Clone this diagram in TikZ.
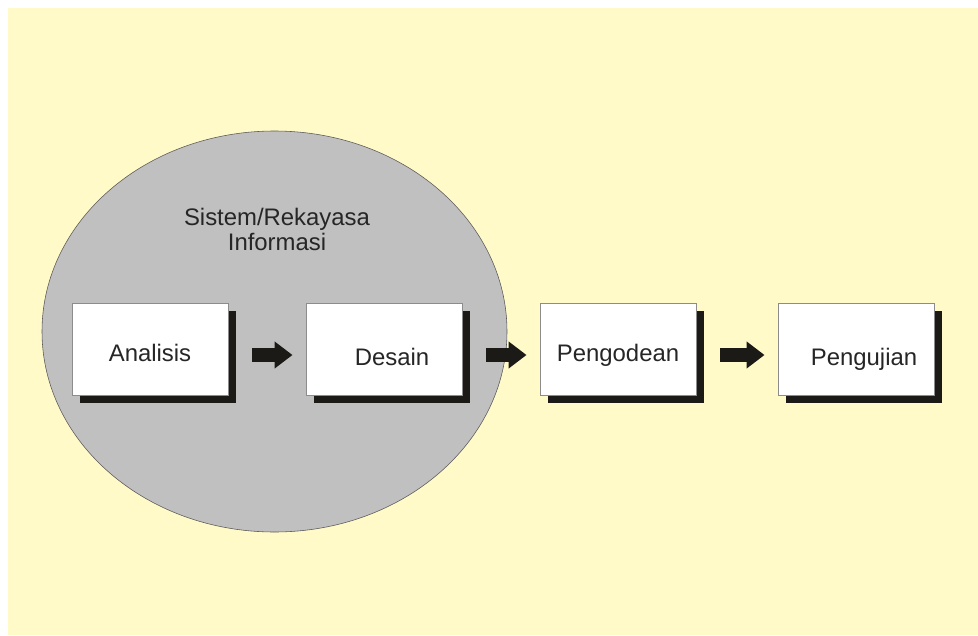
\documentclass[tikz,border=0pt]{standalone}
\usepackage{fontspec}
\setmainfont{Liberation Sans}
\usetikzlibrary{arrows.meta,shadows}

\definecolor{bgyellow}{RGB}{255,250,200}
\definecolor{circlegray}{RGB}{192,192,192}
\definecolor{shadowblack}{RGB}{28,26,23}

\tikzstyle{process} = [rectangle, minimum width=3.9cm, minimum height=2.3cm, text height=0.6cm, text depth=0cm, text centered, draw=black!45, fill=white, text=black!85, drop shadow={shadow xshift=0.2cm, shadow yshift=-0.2cm, fill=shadowblack, opacity=1}, font=\fontsize{17}{18}\selectfont]
\tikzstyle{title} = [align=center, font=\fontsize{17}{18}\selectfont, text=black!85]
\tikzstyle{arrow} = [line width=0.35cm, -{Triangle[length=0.45cm, width=0.65cm]}, draw=shadowblack, shorten <=0.6cm, shorten >=0.33cm]

\begin{document}
\begin{tikzpicture}[node distance = 5.85cm, auto]
	\useasboundingbox (0,0) rectangle (24.45,-15.875);
	% Background and circle
	\fill [bgyellow] (0.2,-0.2) rectangle (24.45,-15.875);
	\draw [fill=circlegray, draw=black!65] (6.8625,-8.2875) ellipse [x radius=5.8125cm, y radius=5.0125cm];
	\node [title] (Sistem) at (6.925,-5.74) {Sistem/Rekayasa\\Informasi};
	% Place nodes
	\node [process] (Analisis) at (3.75,-8.725) {Analisis};
	\node [process, right of=Analisis, label={[xshift=0.2cm, yshift=-0.2cm, text=black!85, font=\fontsize{17}{18}\selectfont]center:Desain}] (Desain) {};
	\node [process, right of=Desain] (Pengodean) {Pengodean};
	\node [process, right of=Pengodean, xshift=0.1cm, label={[xshift=0.2cm, yshift=-0.27cm, text=black!85, font=\fontsize{17}{18}\selectfont]center:Pengujian}] (Pengujian) {};
	% Draw edges
	\draw [arrow] ([yshift=-0.15cm]Analisis.east) -- ([yshift=-0.15cm]Desain.west);
	\draw [arrow] ([yshift=-0.15cm]Desain.east) -- ([yshift=-0.15cm]Pengodean.west);
	\draw [arrow] ([yshift=-0.15cm]Pengodean.east) -- ([yshift=-0.15cm]Pengujian.west);
\end{tikzpicture}
\end{document}
